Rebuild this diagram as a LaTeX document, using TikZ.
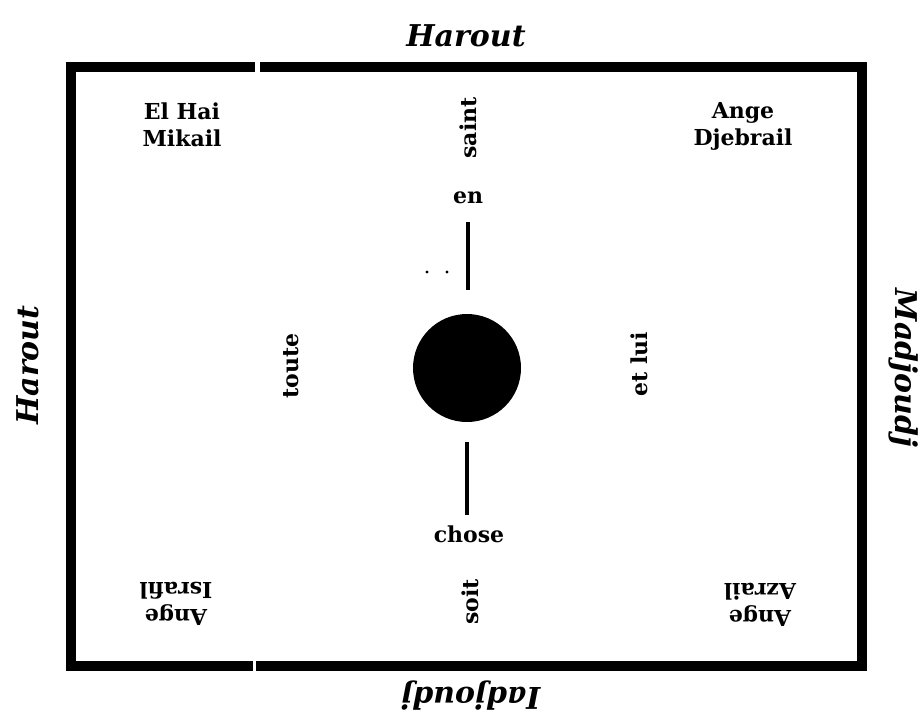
\documentclass[tikz,border=0pt]{standalone}
\usepackage{fontspec}
\setmainfont{DejaVu Serif}
\begin{document}
\begin{tikzpicture}[x=1pt,y=-1pt,
  lbl/.style={font=\fontsize{22}{27}\selectfont\bfseries, inner sep=0pt, align=center},
  side/.style={font=\fontsize{30}{34}\selectfont\bfseries\itshape, inner sep=0pt},
  frame/.style={line width=10pt},
  stem/.style={line width=3.5pt}]
\useasboundingbox (0,0) rectangle (923,716);
% frame
\coordinate (tl) at (71,67);
\coordinate (tr) at (862,67);
\coordinate (bl) at (71,666);
\coordinate (br) at (862,666);
\coordinate (tg1) at (255,67);
\coordinate (tg2) at (260,67);
\coordinate (bg1) at (253,666);
\coordinate (bg2) at (256,666);
\draw[frame] (tg1) -- (tl) -- (bl) -- (bg1);
\draw[frame] (tg2) -- (tr) -- (br) -- (bg2);
% outside labels
\node[side] (top) at (466,36) {Harout};
\node[side, rotate=90] (left) at (28,365) {Harout};
\node[side, rotate=-90] (right) at (904,368) {Madjoudj};
\node[side, rotate=180] (bottom) at (471,696) {Iadjoudj};
% corner labels
\node[lbl] (nw) at (182,125) {El Hai\\Mikail};
\node[lbl] (ne) at (743,126) {Ange\\Djebrail};
\node[lbl, rotate=180] (sw) at (176,604) {Ange\\Israfil};
\node[lbl, rotate=180] (se) at (760,605) {Ange\\Azrail};
% centre
\node[circle, fill=black, minimum size=108pt, inner sep=0pt] (sun) at (467,368) {};
\node[lbl, rotate=90] (saint) at (468,128) {saint};
\node[lbl] (en) at (468,198) {en};
\node[lbl, rotate=90] (toute) at (291,366) {toute};
\node[lbl, rotate=90] (etlui) at (639,364) {et lui};
\node[lbl] (chose) at (469,534) {chose};
\node[lbl, rotate=90] (soit) at (470,602) {soit};
\coordinate (u1) at (468,222);
\coordinate (u2) at (468,290);
\coordinate (d1) at (467,442);
\coordinate (d2) at (467,515);
\draw[stem] (u1) -- (u2);
\draw[stem] (d1) -- (d2);
\fill (427,272) circle (1.6pt);
\fill (447,272) circle (1.6pt);
\end{tikzpicture}
\end{document}
